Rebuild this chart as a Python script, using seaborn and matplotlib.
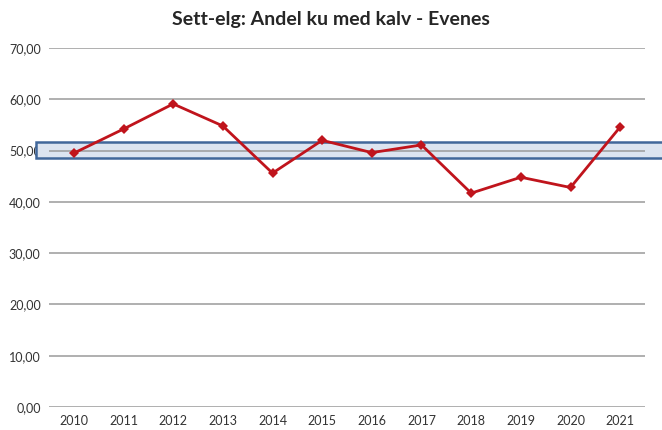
import matplotlib
matplotlib.use("Agg")
import matplotlib.pyplot as plt
from matplotlib.patches import Rectangle
import pandas as pd
import seaborn as sns

# data
YEARS = ["2010", "2011", "2012", "2013", "2014", "2015",
         "2016", "2017", "2018", "2019", "2020", "2021"]
ANDEL = [49.5, 54.2, 59.1, 54.8, 45.6, 52.0, 49.6, 51.1, 41.7, 44.8, 42.8, 54.6]
BAND_LOW, BAND_HIGH = 48.5, 51.6
Y_TICKS = [0, 10, 20, 30, 40, 50, 60, 70]

TITLE = "Sett-elg: Andel ku med kalv - Evenes"
LINE_COLOR = "#C0141C"

sns.set_theme(style="white")
plt.rcParams["font.family"] = ["Lato", "DejaVu Sans"]

df = pd.DataFrame({"year": YEARS, "andel": ANDEL})

fig = plt.figure(figsize=(6.62, 4.30), dpi=100)
ax = fig.add_axes([49 / 662, 23 / 430, 596 / 662, 359 / 430])

# target band (drawn wider than the plot area, like the Excel shape)
band = Rectangle((-0.022, BAND_LOW), 1.052, BAND_HIGH - BAND_LOW,
                 transform=ax.get_yaxis_transform(), clip_on=False,
                 facecolor="#DCE4F0", edgecolor="#41679A", lw=1.8, zorder=1)
ax.add_patch(band)

# gridlines sit on top of the band's fill, so the 50-line shows through
for t in Y_TICKS:
    ax.axhline(t, color="#9a9a9a", lw=1.1, zorder=2)

sns.lineplot(data=df, x="year", y="andel", ax=ax, color=LINE_COLOR,
             lw=2.0, marker="D", markersize=5, markeredgewidth=0, sort=False,
             zorder=3)

ax.set_xlim(-0.5, len(YEARS) - 0.5)
ax.set_ylim(0, 70)
ax.set_yticks(Y_TICKS)
ax.set_yticklabels([f"{t:.2f}".replace(".", ",") for t in Y_TICKS])
ax.tick_params(axis="both", labelsize=9, colors="#333333", length=0, pad=6)
ax.set_xlabel("")
ax.set_ylabel("")
sns.despine(ax=ax, left=True, bottom=True)

fig.suptitle(TITLE, fontsize=14, fontweight="bold", y=0.975)

fig.savefig("out.png", dpi=100)
